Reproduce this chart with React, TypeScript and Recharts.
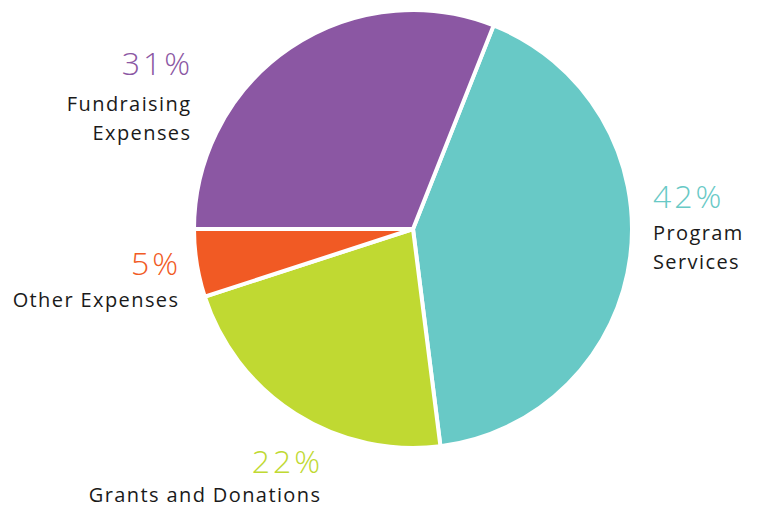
import React from "react";
import { PieChart, Pie, Cell } from "recharts";

const categories = ["Program Services", "Grants and Donations", "Other Expenses", "Fundraising Expenses"];
const shares = [42, 22, 5, 31];
const colors = ["#68C9C6", "#C0D932", "#F15A24", "#8B57A3"];

const labelLines: Record<string, string[]> = {
  "Program Services": ["Program", "Services"],
  "Grants and Donations": ["Grants and Donations"],
  "Other Expenses": ["Other Expenses"],
  "Fundraising Expenses": ["Fundraising", "Expenses"],
};

// label anchor offsets relative to pie centre (percent baseline, then gap to first text line)
const labelLayout: Record<string, { dx: number; dy: number; gap: number; anchor: "start" | "end" }> = {
  "Program Services": { dx: 240, dy: -21, gap: 32, anchor: "start" },
  "Grants and Donations": { dx: -93, dy: 244, gap: 29, anchor: "end" },
  "Other Expenses": { dx: -235, dy: 46, gap: 32, anchor: "end" },
  "Fundraising Expenses": { dx: -223, dy: -154, gap: 36, anchor: "end" },
};

const data = categories.map((name, i) => ({ name, value: shares[i] }));

const FONT = "'Open Sans', sans-serif";

function SliceLabel(props: any) {
  const { cx, cy, name, value, index } = props;
  const lay = labelLayout[name];
  const x = cx + lay.dx;
  const y = cy + lay.dy;
  const endShift = lay.anchor === "end" ? 1 : 0;
  return (
    <g>
      <text
        x={x + endShift * 3}
        y={y}
        textAnchor={lay.anchor}
        fill={colors[index]}
        fontFamily={FONT}
        fontWeight={300}
        fontSize={32}
        letterSpacing={3}
      >
        {value}%
      </text>
      {labelLines[name].map((line, k) => (
        <text
          key={line}
          x={x + endShift * 1.4}
          y={y + lay.gap + k * 28.5}
          textAnchor={lay.anchor}
          fill="#1a1a1a"
          fontFamily={FONT}
          fontSize={20}
          letterSpacing={1.4}
        >
          {line}
        </text>
      ))}
    </g>
  );
}

export default function App() {
  return (
    <div style={{ position: "fixed", left: 0, top: 0, width: 757, height: 508, background: "#fff" }}>
      <PieChart width={757} height={508} margin={{ top: 0, right: 0, bottom: 0, left: 0 }}>
        <Pie
          data={data}
          dataKey="value"
          nameKey="name"
          cx={413}
          cy={229}
          outerRadius={219}
          startAngle={68.4}
          endAngle={-291.6}
          stroke="#fff"
          strokeWidth={4}
          label={SliceLabel}
          labelLine={false}
          isAnimationActive={false}
        >
          {data.map((d, i) => (
            <Cell key={d.name} fill={colors[i]} />
          ))}
        </Pie>
      </PieChart>
    </div>
  );
}
